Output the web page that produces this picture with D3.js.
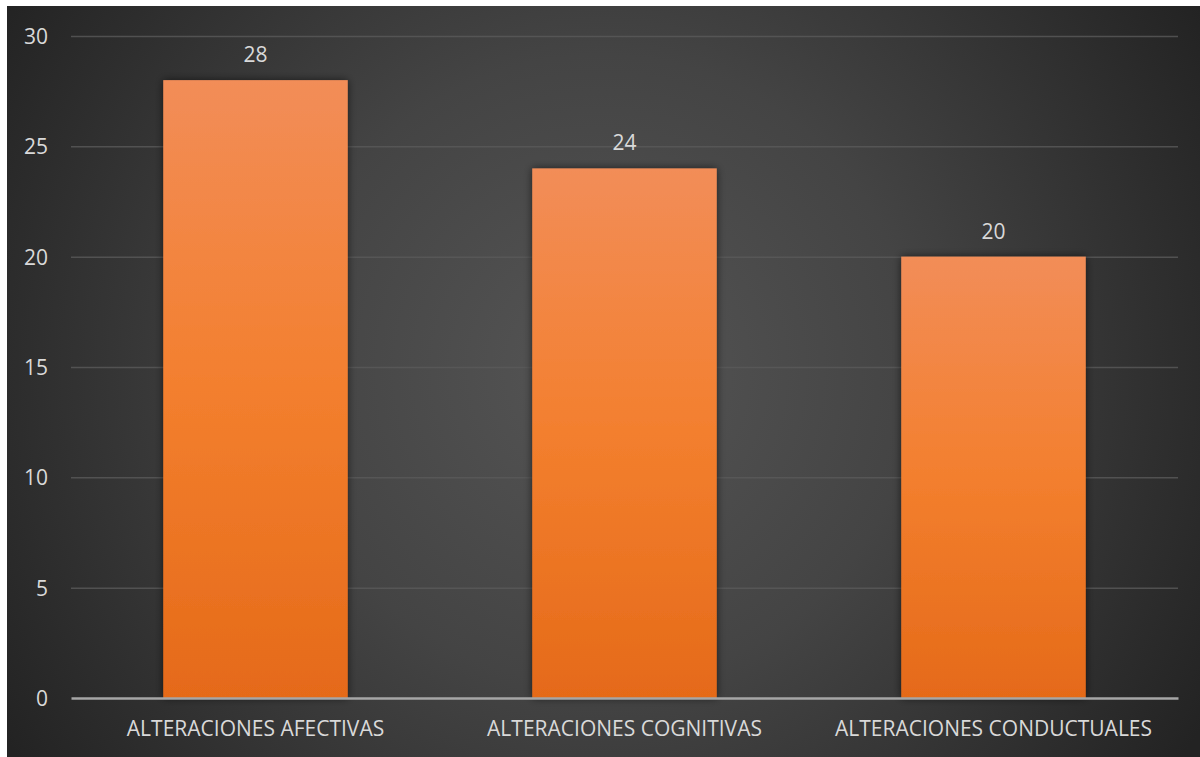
<!DOCTYPE html>
<html><head><meta charset="utf-8">
<script src="https://cdn.jsdelivr.net/npm/d3@7"></script>
<style>html,body{margin:0;padding:0;background:#fff;}svg{display:block;}</style>
</head><body>
<svg id="c" width="1200" height="757"></svg>
<script>
const categories = ["ALTERACIONES AFECTIVAS", "ALTERACIONES COGNITIVAS", "ALTERACIONES CONDUCTUALES"];
const values = [28, 24, 20];
const yTicks = [0, 5, 10, 15, 20, 25, 30];

(function(){
const svg = d3.select("#c");
const W = 1200, H = 757;
const defs = svg.append("defs");

const bg = defs.append("radialGradient").attr("id","bg").attr("gradientUnits","userSpaceOnUse")
  .attr("cx",600).attr("cy",370).attr("r",700);
bg.append("stop").attr("offset","0%").attr("stop-color","#555555");
bg.append("stop").attr("offset","45%").attr("stop-color","#444444");
bg.append("stop").attr("offset","100%").attr("stop-color","#232323");

const bar = defs.append("linearGradient").attr("id","bar").attr("x1",0).attr("y1",0).attr("x2",0).attr("y2",1);
bar.append("stop").attr("offset","0%").attr("stop-color","#f28d58");
bar.append("stop").attr("offset","50%").attr("stop-color","#f37f2e");
bar.append("stop").attr("offset","100%").attr("stop-color","#e56a19");

const sh = defs.append("filter").attr("id","sh").attr("x","-20%").attr("y","-20%").attr("width","140%").attr("height","140%");
sh.append("feGaussianBlur").attr("in","SourceAlpha").attr("stdDeviation",4);
sh.append("feOffset").attr("dx",0).attr("dy",0).attr("result","b");
sh.append("feComponentTransfer").append("feFuncA").attr("type","linear").attr("slope",0.6);
const m = sh.append("feMerge"); m.append("feMergeNode"); m.append("feMergeNode").attr("in","SourceGraphic");

svg.append("rect").attr("x",7).attr("y",6).attr("width",W-7).attr("height",H-6).attr("fill","url(#bg)");

const pL = 71, pR = 1178, pT = 36, pB = 698;
const x = d3.scaleBand().domain(categories).range([pL, pR]).paddingInner(0.5).paddingOuter(0.25);
const y = d3.scaleLinear().domain([0, 30]).range([pB, pT]);

const font = "'Open Sans', 'Noto Sans', sans-serif";

const grid = svg.append("g").attr("transform",`translate(${pL},0)`)
  .call(d3.axisLeft(y).tickValues(yTicks.filter(t=>t>0)).tickSize(-(pR-pL)).tickFormat(""));
grid.select(".domain").remove();
grid.selectAll("line").attr("stroke","#5a5a5a").attr("stroke-width",1.5).attr("stroke-opacity",0.8);

const ya = svg.append("g").attr("transform",`translate(48,0)`)
  .call(d3.axisLeft(y).tickValues(yTicks).tickSize(0).tickPadding(0));
ya.select(".domain").remove();
ya.selectAll("text").attr("fill","#d9d9d9").style("font-family",font).style("font-size","21px").attr("dy","0.36em");

svg.append("g").selectAll("rect").data(values).join("rect")
  .attr("x",(d,i)=>x(categories[i])).attr("width",x.bandwidth())
  .attr("y",d=>y(d)).attr("height",d=>y(0)-y(d))
  .attr("fill","url(#bar)").attr("filter","url(#sh)");

const xa = svg.append("g").attr("transform",`translate(0,${pB})`)
  .call(d3.axisBottom(x).tickSize(0).tickPadding(23));
xa.select(".domain").attr("stroke","#a6a6a6").attr("stroke-width",2.5);
xa.selectAll("text").attr("fill","#d9d9d9").style("font-family",font).style("font-size","21px");

svg.append("g").selectAll("text").data(values).join("text")
  .attr("x",(d,i)=>x(categories[i])+x.bandwidth()/2).attr("y",d=>y(d)-18)
  .attr("text-anchor","middle").attr("fill","#d9d9d9")
  .style("font-family",font).style("font-size","21px").text(d=>d);
})();
</script>
</body></html>
